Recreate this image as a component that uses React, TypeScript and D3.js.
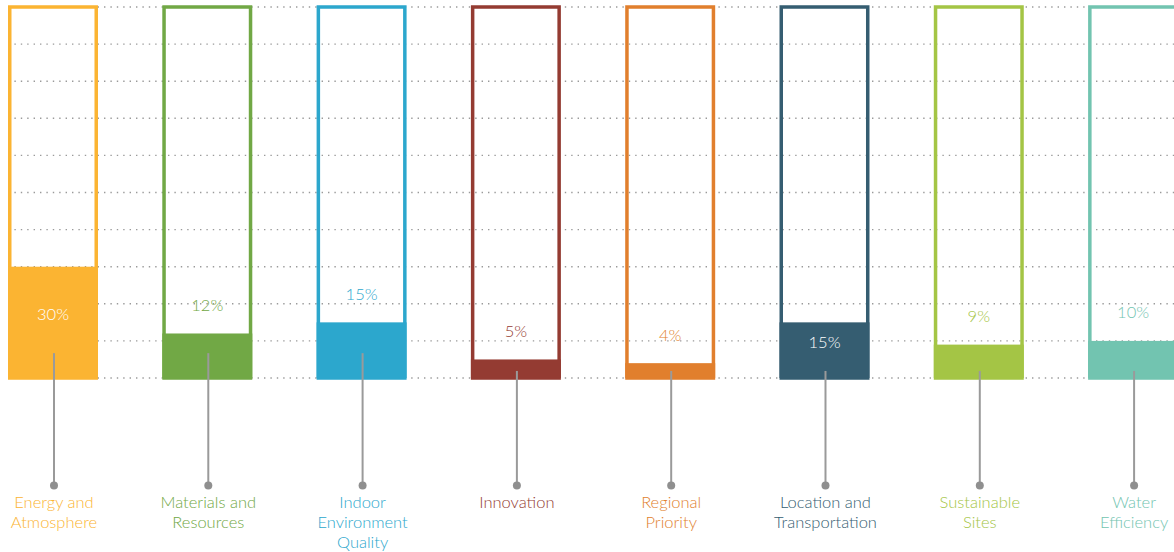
import React from "react";
import * as d3 from "d3";

const categories = [
  "Energy and Atmosphere",
  "Materials and Resources",
  "Indoor Environment Quality",
  "Innovation",
  "Regional Priority",
  "Location and Transportation",
  "Sustainable Sites",
  "Water Efficiency",
];
const labelLines = [
  ["Energy and", "Atmosphere"],
  ["Materials and", "Resources"],
  ["Indoor", "Environment", "Quality"],
  ["Innovation"],
  ["Regional", "Priority"],
  ["Location and", "Transportation"],
  ["Sustainable", "Sites"],
  ["Water", "Efficiency"],
];
const values = [30, 12, 15, 5, 4, 15, 9, 10];
const colors = ["#FBB432", "#71A845", "#2CA7CD", "#943B32", "#E17F2D", "#355D71", "#A4C545", "#72C4B0"];
const labelInside = [true, false, false, false, false, true, false, false];
const leaderTop = [6.7, 6.7, 6.7, 1.9, 1.9, 1.9, 1.9, 1.9];
const gridTicks = [0, 10, 20, 30, 40, 50, 60, 70, 80, 90, 100];

const W = 1174;
const H = 552;
const FONT = "Lato, 'Noto Sans', sans-serif";

export default function App() {
  const pi = 0.4168;
  const step = 154.3;
  const x = d3
    .scaleBand<string>()
    .domain(categories)
    .range([8, 8 + step * (categories.length - pi)])
    .paddingInner(pi)
    .paddingOuter(0);
  const y = d3.scaleLinear().domain([0, 100]).range([378, 7]);
  const bw = x.bandwidth();
  const sw = 3.5;
  const dotY = 485.5;

  return (
    <svg width={W} height={H} style={{ position: "absolute", left: 0, top: 0 }} fontFamily={FONT}>
      <g>
        {gridTicks.map((t) => (
          <line
            key={t}
            x1={8}
            x2={W}
            y1={y(t)}
            y2={y(t)}
            stroke="#9a9a9a"
            strokeWidth={1.4}
            strokeDasharray="1.4 5"
          />
        ))}
      </g>
      {categories.map((c, i) => {
        const x0 = x(c)!;
        const cx = x0 + bw / 2;
        const v = values[i];
        const top = y(v);
        const mid = (top + y(0)) / 2;
        return (
          <g key={c}>
            <rect
              x={x0 + sw / 2}
              y={y(100)}
              width={bw - sw}
              height={y(0) - y(100)}
              fill="none"
              stroke={colors[i]}
              strokeWidth={sw}
            />
            <rect x={x0} y={top} width={bw} height={y(0) - top} fill={colors[i]} />
            <text
              x={cx}
              y={labelInside[i] ? mid - 2 : top - 22.5}
              textAnchor="middle"
              fontSize={16.5}
              fontWeight={300}
              fill={labelInside[i] ? "#ffffff" : colors[i]}
            >
              {v}%
            </text>
            <line
              x1={cx + 1}
              x2={cx + 1}
              y1={y(leaderTop[i])}
              y2={dotY}
              stroke="#9a9a9a"
              strokeWidth={2}
            />
            <circle cx={cx + 1} cy={dotY} r={4} fill="#8f8f8f" />
            <text textAnchor="middle" fontSize={16.5} fontWeight={300} fill={colors[i]}>
              {labelLines[i].map((l, j) => (
                <tspan key={j} x={cx + 1} y={507.5 + j * 20}>
                  {l}
                </tspan>
              ))}
            </text>
          </g>
        );
      })}
    </svg>
  );
}
